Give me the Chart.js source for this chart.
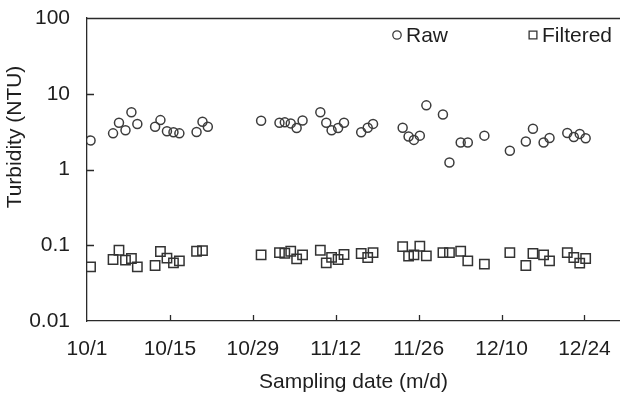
<!DOCTYPE html>
<html>
<head>
<meta charset="utf-8">
<script src="https://cdn.jsdelivr.net/npm/chart.js@4/dist/chart.umd.min.js"></script>
<style>
  html, body { margin: 0; padding: 0; background: #ffffff; }
  #wrap { width: 620px; height: 396px; }
</style>
</head>
<body>
<div id="wrap"><canvas id="c" width="620" height="396"></canvas></div>
<script>
// ---- data (days counted from 10/1) ----
const sampleDays = [0.6, 4.4, 5.4, 6.5, 7.5, 8.5, 11.5, 12.4, 13.5, 14.6, 15.6, 18.5, 19.5, 20.4,
  29.4, 32.5, 33.4, 34.4, 35.4, 36.4, 39.4, 40.4, 41.3, 42.4, 43.4, 46.3, 47.4, 48.3,
  53.3, 54.3, 55.2, 56.2, 57.3, 60.1, 61.2, 63.1, 64.3, 67.1, 71.4, 74.1, 75.3, 77.1, 78.1,
  81.1, 82.2, 83.2, 84.2];
const rawTurbidity = [2.42, 3.0, 4.14, 3.3, 5.7, 3.98, 3.67, 4.49, 3.2, 3.1, 3.0, 3.13, 4.26, 3.67,
  4.39, 4.14, 4.19, 4.06, 3.53, 4.44, 5.7, 4.14, 3.3, 3.53, 4.14, 3.1, 3.56, 4.0,
  3.56, 2.72, 2.46, 2.8, 7.03, 5.32, 1.24, 2.27, 2.27, 2.8, 1.77, 2.34, 3.46, 2.27, 2.61,
  3.04, 2.69, 2.95, 2.59];
const filteredTurbidity = [0.0518, 0.0648, 0.086, 0.0635, 0.0668, 0.0518, 0.054, 0.0826, 0.0675, 0.0585, 0.0622, 0.0834, 0.085, null,
  0.0745, 0.080, 0.0785, 0.0834, 0.066, 0.0745, 0.086, 0.0585, 0.069, 0.0648, 0.0755, 0.0778, 0.0689, 0.080,
  0.096, 0.0717, 0.0745, 0.097, 0.0724, 0.080, 0.080, 0.0834, 0.0622, 0.0562, 0.080, 0.054, 0.0778, 0.0745, 0.0622,
  0.080, 0.0689, 0.058, 0.0668];
const seriesNames = ['Raw', 'Filtered'];
const xTickDays = [0, 14, 28, 42, 56, 70, 84];
const xTickLabels = ['10/1', '10/15', '10/29', '11/12', '11/26', '12/10', '12/24'];
const yTickValues = [0.01, 0.1, 1, 10, 100];
const yTickLabels = ['0.01', '0.1', '1', '10', '100'];
const xTitle = 'Sampling date (m/d)';
const yTitle = 'Turbidity (NTU)';

// ---- styling ----
const FONT = '"Liberation Sans", Arial, sans-serif';
const INK = '#1e1e1e';
const AXIS = '#2a2a2a';

function pts(ys) {
  const out = [];
  sampleDays.forEach((d, i) => { if (ys[i] !== null) out.push({ x: d, y: ys[i] }); });
  return out;
}

const decorPlugin = {
  id: 'decor',
  afterDraw(chart) {
    const { ctx, chartArea: a, scales } = chart;
    ctx.save();
    ctx.strokeStyle = AXIS;
    ctx.lineWidth = 1.3;
    // top frame line
    ctx.beginPath();
    ctx.moveTo(a.left, a.top + 0.5);
    ctx.lineTo(chart.width, a.top + 0.5);
    ctx.stroke();
    // inward tick marks
    ctx.beginPath();
    scales.x.ticks.forEach(t => {
      if (t.value <= scales.x.min) return;
      const px = Math.round(scales.x.getPixelForValue(t.value)) + 0.5;
      ctx.moveTo(px, a.bottom);
      ctx.lineTo(px, a.bottom - 6);
    });
    scales.y.ticks.forEach(t => {
      if (t.value <= scales.y.min || t.value >= scales.y.max) return;
      const py = Math.round(scales.y.getPixelForValue(t.value)) + 0.5;
      ctx.moveTo(a.left, py);
      ctx.lineTo(a.left + 7, py);
    });
    ctx.stroke();

    // y title
    ctx.fillStyle = INK;
    ctx.font = '21px ' + FONT;
    ctx.textAlign = 'center';
    ctx.textBaseline = 'middle';
    ctx.translate(15, 137);
    ctx.rotate(-Math.PI / 2);
    ctx.fillText(yTitle, 0, 0);
    ctx.restore();

    // legend
    ctx.save();
    const items = [
      { ds: chart.data.datasets[0], x: 397, label: seriesNames[0] },
      { ds: chart.data.datasets[1], x: 533, label: seriesNames[1] }
    ];
    const ly = a.top + 17;
    items.forEach(it => {
      ctx.strokeStyle = it.ds.borderColor;
      ctx.fillStyle = 'rgba(0,0,0,0)';
      ctx.lineWidth = 1.3;
      Chart.helpers.drawPoint(ctx, {
        pointStyle: it.ds.pointStyle,
        radius: it.ds.pointStyle === 'rect' ? 5.5 : 4.2,
        borderWidth: 1.3,
        rotation: 0
      }, it.x, ly);
      ctx.fillStyle = INK;
      ctx.font = '21px ' + FONT;
      ctx.textAlign = 'left';
      ctx.textBaseline = 'middle';
      ctx.fillText(it.label, it.x + 9, ly + 1);
    });
    ctx.restore();
  }
};

new Chart(document.getElementById('c'), {
  type: 'scatter',
  data: {
    datasets: [
      {
        label: seriesNames[0],
        data: pts(rawTurbidity),
        pointStyle: 'circle',
        pointRadius: 4.5,
        pointHoverRadius: 4.5,
        borderWidth: 1.5,
        borderColor: '#3c3c3c',
        backgroundColor: 'rgba(0,0,0,0)'
      },
      {
        label: seriesNames[1],
        data: pts(filteredTurbidity),
        pointStyle: 'rect',
        pointRadius: 6.6,
        pointHoverRadius: 6.6,
        borderWidth: 1.5,
        borderColor: '#333333',
        backgroundColor: 'rgba(0,0,0,0)'
      }
    ]
  },
  options: {
    responsive: false,
    animation: false,
    devicePixelRatio: 1,
    layout: { autoPadding: false, padding: { top: 18, right: 0, bottom: 0, left: 0 } },
    plugins: {
      legend: { display: false },
      tooltip: { enabled: false }
    },
    scales: {
      x: {
        type: 'linear',
        min: 0,
        max: 90,
        afterBuildTicks(scale) { scale.ticks = xTickDays.map(v => ({ value: v })); },
        afterFit(scale) { scale.height = 75; scale.paddingLeft = 0; scale.paddingRight = 0; },
        ticks: {
          autoSkip: false,
          maxRotation: 0,
          padding: 16,
          color: INK,
          font: { family: FONT, size: 21 },
          callback(v) { const i = xTickDays.indexOf(v); return i >= 0 ? xTickLabels[i] : ''; }
        },
        grid: { display: true, drawOnChartArea: false, drawTicks: false },
        border: { display: true, color: AXIS, width: 1.3 },
        title: {
          display: true,
          text: xTitle,
          color: INK,
          font: { family: FONT, size: 21 },
          padding: { top: 0, bottom: 1.5 }
        }
      },
      y: {
        type: 'logarithmic',
        min: 0.01,
        max: 100,
        afterBuildTicks(scale) { scale.ticks = yTickValues.map(v => ({ value: v, major: true })); },
        afterFit(scale) { scale.width = 87; scale.paddingTop = 0; scale.paddingBottom = 0; },
        ticks: {
          autoSkip: false,
          padding: 17,
          color: INK,
          font: { family: FONT, size: 21 },
          callback(v) { const i = yTickValues.indexOf(v); return i >= 0 ? yTickLabels[i] : ''; }
        },
        grid: { display: true, drawOnChartArea: false, drawTicks: false },
        border: { display: true, color: AXIS, width: 1.3 }
      }
    }
  },
  plugins: [decorPlugin]
});
</script>
</body>
</html>
